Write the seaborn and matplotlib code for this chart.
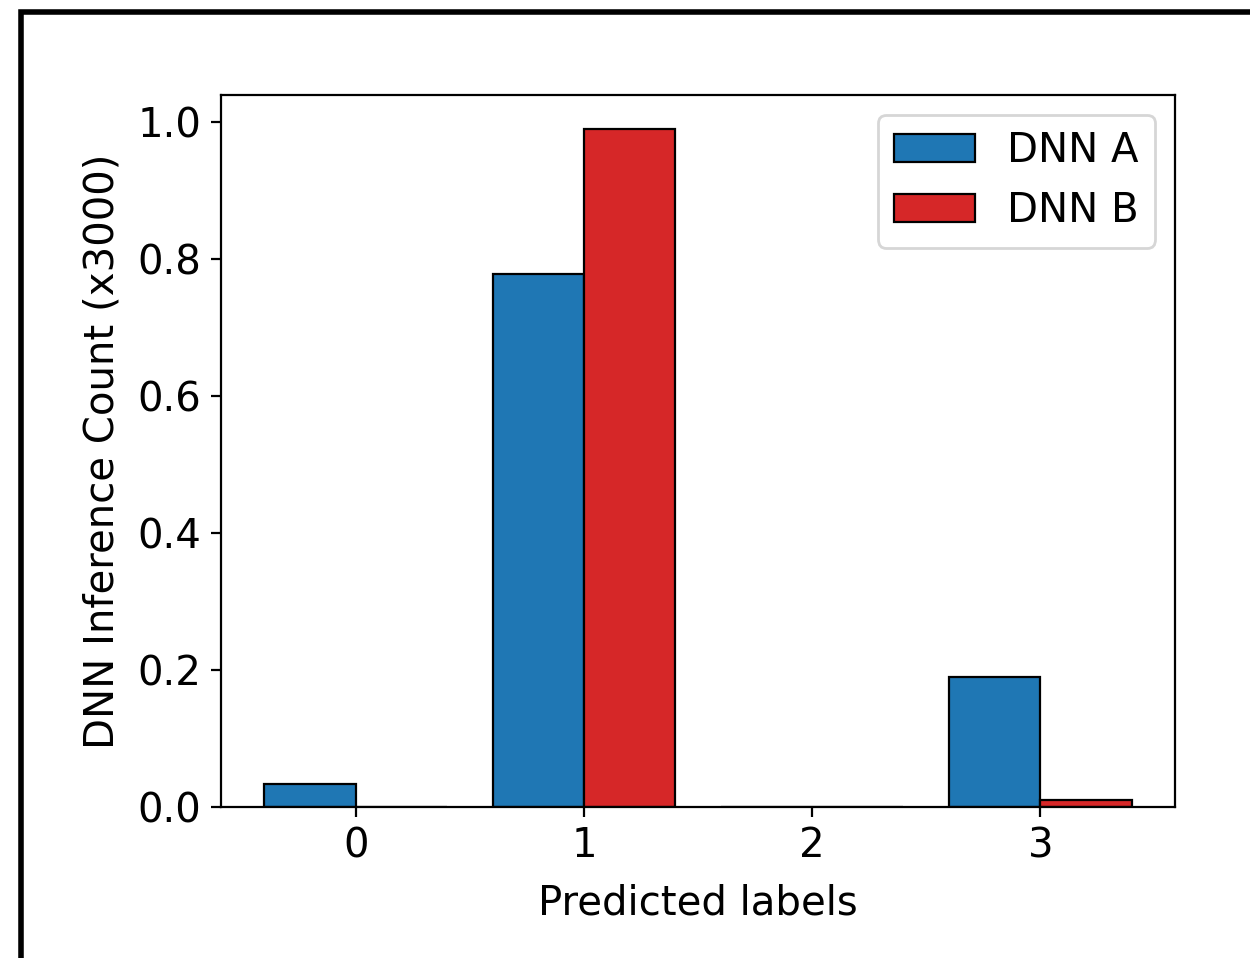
import pandas as pd
import seaborn as sns
import matplotlib.pyplot as plt
from matplotlib.patches import Rectangle

labels = [0, 1, 2, 3]
dnn_a = [0.033, 0.778, 0.0, 0.19]
dnn_b = [0.0, 0.99, 0.0, 0.01]
series = ["DNN A", "DNN B"]
colors = ["#1f77b4", "#d62728"]

data = pd.DataFrame({
    "label": labels * 2,
    "count": dnn_a + dnn_b,
    "model": [series[0]] * len(labels) + [series[1]] * len(labels),
})

fig = plt.figure(figsize=(6.25, 4.79), dpi=200)
ax = fig.add_axes([0.1768, 0.1576, 0.7632, 0.7432])

sns.barplot(data, x="label", y="count", hue="model", palette=colors,
            edgecolor="black", linewidth=0.8, saturation=1, width=0.8,
            errorbar=None, ax=ax, legend=False)

ax.set_xlim(-0.59, 3.59)
ax.set_ylim(0, 1.0395)
ax.set_yticks([0.0, 0.2, 0.4, 0.6, 0.8, 1.0])
ax.set_xlabel("Predicted labels", fontsize=14.5, labelpad=6)
ax.set_ylabel("DNN Inference Count (x3000)", fontsize=14.5, labelpad=5.5)
ax.tick_params(labelsize=14.5)

ax.legend(ax.containers, series, loc="upper right", fontsize=14.5)

# black frame drawn round the figure (right/bottom fall outside the crop)
fig.patches.append(Rectangle((21 / 1250, -0.1), 1.2, 1 - 11.5 / 958 + 0.1,
                             transform=fig.transFigure, fill=False,
                             edgecolor="black", linewidth=2, zorder=10))

fig.savefig("out.png", dpi=200)
